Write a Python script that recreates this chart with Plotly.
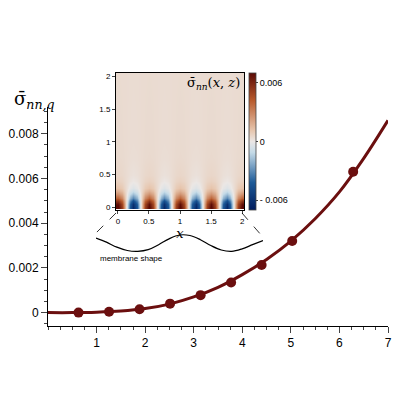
import plotly.graph_objects as go
import numpy as np

# main curve
curve_q = [0, 0.5, 1, 1.5, 2, 2.5, 3, 3.5, 4, 4.5, 5, 5.5, 6, 6.5, 7]
curve_s = [0, 0.0, 0.00002, 0.00007, 0.00018, 0.00038, 0.0007, 0.00113, 0.0017, 0.00238, 0.0032, 0.0042, 0.0054, 0.0069, 0.0086]
pts_q = [0.628, 1.257, 1.885, 2.513, 3.142, 3.770, 4.398, 5.027, 6.283]
pts_s = [0.0, 0.00004, 0.00015, 0.0004, 0.00078, 0.00135, 0.00213, 0.0032, 0.0063]

# inset field: x profile over one period (repeated), z amplitude
x_prof = [1, 0.7, 0, -0.7, -1, -0.7, 0, 0.7]
z_vals = [0, 0.05, 0.1, 0.15, 0.2, 0.25, 0.3, 0.4, 0.5, 0.75, 1.0, 1.5, 2.0]
z_amp = [0.0068, 0.0064, 0.0052, 0.0035, 0.0022, 0.0014, 0.0008, 0.00035, 0.00018, 0.00007, 0.00004, 0.00003, 0.00002]
background = 0.0004

# membrane shape
mem_t = [i / 16 for i in range(17)]
mem_y = [0.8, 0.55, 0.25, 0.05, 0.0, 0.1, 0.4, 0.75, 0.98, 0.95, 0.7, 0.35, 0.08, 0.0, 0.15, 0.4, 0.65]

xs = [i * 0.0625 for i in range(33)]
prof = (x_prof * 5)[:33]
Z = [[background + a * p for p in prof] for a in z_amp]

dark = '#6b0f0f'
fig = go.Figure()
fig.add_trace(go.Scatter(x=curve_q, y=curve_s, mode='lines', line=dict(color=dark, width=3, shape='spline'), showlegend=False))
fig.add_trace(go.Scatter(x=pts_q, y=pts_s, mode='markers', marker=dict(color=dark, size=10), showlegend=False))

vik = [[0, '#001b5c'], [0.2, '#1c5a98'], [0.42, '#c5dbe8'], [0.5, '#ebe7e5'], [0.58, '#e7c6ae'], [0.8, '#b85a2c'], [1, '#5a0a05']]
fig.add_trace(go.Heatmap(x=xs, y=z_vals, z=Z, xaxis='x2', yaxis='y2', colorscale=vik, zmin=-0.007, zmax=0.007,
                         zsmooth='best',
                         colorbar=dict(x=0.603, xanchor='left', y=0.666, yanchor='middle', len=0.342, thickness=7,
                                       outlinewidth=0.8, xpad=0, ypad=0,
                                       tickvals=[-0.006, 0, 0.006], ticktext=['- 0.006', '0', '0.006'],
                                       ticks='outside', ticklen=2, tickfont=dict(size=9, family='Liberation Sans'))))
fig.add_trace(go.Scatter(x=mem_t, y=mem_y, xaxis='x3', yaxis='y3', mode='lines', line=dict(color='black', width=1.2, shape='spline'), showlegend=False))

fig.update_layout(
    width=400, height=400, margin=dict(l=0, r=0, t=0, b=0, autoexpand=False), plot_bgcolor='white', paper_bgcolor='white',
    font=dict(family='Liberation Sans', color='black'),
    xaxis=dict(domain=[0.1, 0.95], range=[0, 7], showgrid=False, zeroline=False, showline=True, linecolor='black', automargin=False,
               ticks='outside', ticklen=6, tickvals=[1, 2, 3, 4, 5, 6, 7], tickfont=dict(size=12),
               minor=dict(ticks='outside', ticklen=3, dtick=0.25, tick0=0)),
    yaxis=dict(domain=[0.205, 0.7525], range=[-0.0006, 0.0092], showgrid=False, zeroline=False, showline=True, linecolor='black',
               automargin=False, ticks='outside', ticklen=6, tickvals=[0, 0.002, 0.004, 0.006, 0.008],
               ticktext=['0', '0.002', '0.004', '0.006', '0.008'],
               tickfont=dict(size=12), minor=dict(ticks='outside', ticklen=3, dtick=0.0005, tick0=0)),
    xaxis2=dict(domain=[0.27, 0.59], range=[-0.03, 2.03], anchor='y2', showgrid=False, zeroline=False, showline=True, mirror=True,
                automargin=False, linecolor='black', ticks='outside', ticklen=3, tickvals=[0, 0.5, 1, 1.5, 2], tickfont=dict(size=8),
                title=dict(text='<i>x</i>', font=dict(size=13, family='DejaVu Serif'), standoff=0)),
    yaxis2=dict(domain=[0.495, 0.8375], range=[-0.04, 2.05], anchor='x2', showgrid=False, zeroline=False, showline=True, mirror=True,
                automargin=False, linecolor='black', ticks='outside', ticklen=3, tickvals=[0, 0.5, 1, 1.5, 2], tickfont=dict(size=8)),
    xaxis3=dict(domain=[0.22, 0.6375], range=[0, 1], anchor='y3', visible=False),
    yaxis3=dict(domain=[0.3875, 0.4375], range=[-0.1, 1.1], anchor='x3', visible=False),
    shapes=[
        dict(type='line', xref='paper', yref='paper', x0=0.27, y0=0.4875, x1=0.22, y1=0.4375, line=dict(dash='dash', width=0.8, color='black')),
        dict(type='line', xref='paper', yref='paper', x0=0.585, y0=0.4875, x1=0.635, y1=0.43, line=dict(dash='dash', width=0.8, color='black')),
    ],
    annotations=[
        dict(text='σ̄<sub><i>nn,q</i></sub>', x=0.01, y=0.77, xref='paper', yref='paper', xanchor='left', yanchor='middle',
             showarrow=False, font=dict(size=18, family='DejaVu Serif')),
        dict(text='<i>q̄</i>', x=0.975, y=0.215, xref='paper', yref='paper', xanchor='center', showarrow=False,
             font=dict(size=18, family='DejaVu Serif')),
        dict(text='σ̄<sub><i>nn</i></sub>(<i>x</i>, <i>z</i>)', x=0.585, y=0.81, xref='paper', yref='paper', xanchor='right',
             yanchor='middle', showarrow=False, font=dict(size=13, family='DejaVu Serif')),
        dict(text='membrane shape', x=0.225, y=0.39, xref='paper', yref='paper', xanchor='left', yanchor='top',
             showarrow=False, font=dict(size=8)),
    ],
)
fig.write_html('out.html')
